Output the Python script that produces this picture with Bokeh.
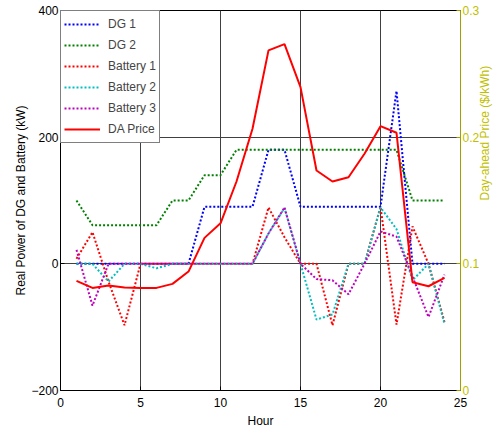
import math
from bokeh.plotting import figure
from bokeh.models import Range1d, LinearAxis, FixedTicker, Legend, LegendItem
from bokeh.embed import file_html
from bokeh.resources import INLINE

hours = list(range(1, 25))
dg1 = [0, 0, 0, 0, 0, 0, 0, 0, 90, 90, 90, 90, 180, 180, 90, 90, 90, 90, 90, 90, 273, 0, 0, 0]
dg2 = [100, 61, 61, 61, 61, 61, 100, 100, 140, 140, 180, 180, 180, 180, 180, 180, 180, 180, 180, 180, 180, 100, 100, 100]
battery1 = [8, 50, -28, -97, 0, 0, 0, 0, 0, 0, 0, 0, 89, 42, 0, 0, -97, 0, 0, 90, -96, 59, 0, -92]
battery2 = [0, 0, -28, 0, 0, -7, 0, 0, 0, 0, 0, 0, 48, 88, 0, -88, -80, 0, 0, 89, 55, -26, 0, -95]
battery3 = [22, -66, 0, 0, 0, 0, 0, 0, 0, 0, 0, 0, 48, 89, 0, -24, -26, -48, 0, 51, 43, -20, -84, -17]
da_price = [0.0866, 0.081, 0.0829, 0.0813, 0.081, 0.081, 0.0842, 0.0939, 0.1205, 0.132, 0.165, 0.2066,
            0.2685, 0.2735, 0.2395, 0.1737, 0.165, 0.1684, 0.1869, 0.2087, 0.2035, 0.0855, 0.0823, 0.089]

x_ticks = [0, 5, 10, 15, 20, 25]
y_ticks = [-200, 0, 200, 400]
price_ticks = [0, 0.1, 0.2, 0.3]

FONT = "Liberation Sans"
OLIVE = "#bfbf00"

p = figure(width=502, height=433, x_range=Range1d(0, 25), y_range=Range1d(-200, 400),
           output_backend="svg", toolbar_location=None,
           min_border_left=60, min_border_right=41, min_border_top=10, min_border_bottom=43)
p.extra_y_ranges = {"price": Range1d(0, 0.3)}

p.background_fill_color = "white"
p.border_fill_color = "white"
p.outline_line_color = "black"
p.outline_line_width = 1

for ax in (p.xaxis[0], p.yaxis[0]):
    ax.major_tick_in = 4
    ax.major_tick_out = 0
    ax.minor_tick_in = 0
    ax.minor_tick_out = 0
    ax.axis_line_color = "black"
    ax.major_tick_line_color = "black"
    ax.major_label_text_font = FONT
    ax.major_label_text_font_size = "12px"
    ax.major_label_text_color = "black"
    ax.axis_label_text_font = FONT
    ax.axis_label_text_font_size = "12px"
    ax.axis_label_text_font_style = "normal"
    ax.axis_label_text_color = "black"

p.xaxis.ticker = FixedTicker(ticks=x_ticks)
p.yaxis.ticker = FixedTicker(ticks=y_ticks)
p.xaxis.axis_label = "Hour"
p.yaxis.axis_label = "Real Power of DG and Battery (kW)"
p.xaxis.major_label_standoff = 7
p.xaxis.axis_label_standoff = 4
p.yaxis.major_label_standoff = 2
p.yaxis.axis_label_standoff = 0

p.xgrid.ticker = FixedTicker(ticks=x_ticks)
p.ygrid.ticker = FixedTicker(ticks=y_ticks)
p.grid.grid_line_color = "#404040"
p.grid.grid_line_width = 1

right = LinearAxis(y_range_name="price", ticker=FixedTicker(ticks=price_ticks),
                   axis_label="Day-ahead Price ($/kWh)")
right.major_label_overrides = {0: "0", 0.1: "0.1", 0.2: "0.2", 0.3: "0.3"}
right.major_tick_in = 4
right.major_tick_out = 0
right.minor_tick_in = 0
right.minor_tick_out = 0
right.axis_line_color = "#a0a000"
right.major_tick_line_color = "#a0a000"
right.major_label_text_color = OLIVE
right.major_label_text_font = FONT
right.major_label_text_font_size = "12px"
right.major_label_standoff = 2
right.axis_label_text_color = OLIVE
right.axis_label_text_font = FONT
right.axis_label_text_font_size = "12px"
right.axis_label_text_font_style = "normal"
right.axis_label_standoff = 3
if hasattr(right, "axis_label_orientation"):
    right.axis_label_orientation = math.pi / 2
p.add_layout(right, "right")

dash = "2 2"
r1 = p.line(hours, dg1, line_color="#0000ff", line_width=2, line_dash=dash)
r2 = p.line(hours, dg2, line_color="#008000", line_width=2, line_dash=dash)
r3 = p.line(hours, battery1, line_color="#ff0000", line_width=2, line_dash=dash)
r4 = p.line(hours, battery2, line_color="#00bfbf", line_width=2, line_dash=dash)
r5 = p.line(hours, battery3, line_color="#bf00bf", line_width=2, line_dash=dash)
r6 = p.line(hours, da_price, line_color="#ff0000", line_width=2, y_range_name="price")

legend = Legend(items=[
    LegendItem(label="DG 1", renderers=[r1]),
    LegendItem(label="DG 2", renderers=[r2]),
    LegendItem(label="Battery 1", renderers=[r3]),
    LegendItem(label="Battery 2", renderers=[r4]),
    LegendItem(label="Battery 3", renderers=[r5]),
    LegendItem(label="DA Price", renderers=[r6]),
], location="top_left")
legend.margin = 0
legend.padding = 3
legend.spacing = 1
legend.label_height = 20
legend.glyph_height = 20
legend.glyph_width = 36
legend.label_standoff = 8
legend.label_text_font = FONT
legend.label_text_font_size = "12px"
legend.border_line_color = "black"
legend.border_line_width = 1
legend.background_fill_color = "white"
legend.background_fill_alpha = 1
p.add_layout(legend, "center")

open("out.html", "w").write(file_html(p, INLINE))
